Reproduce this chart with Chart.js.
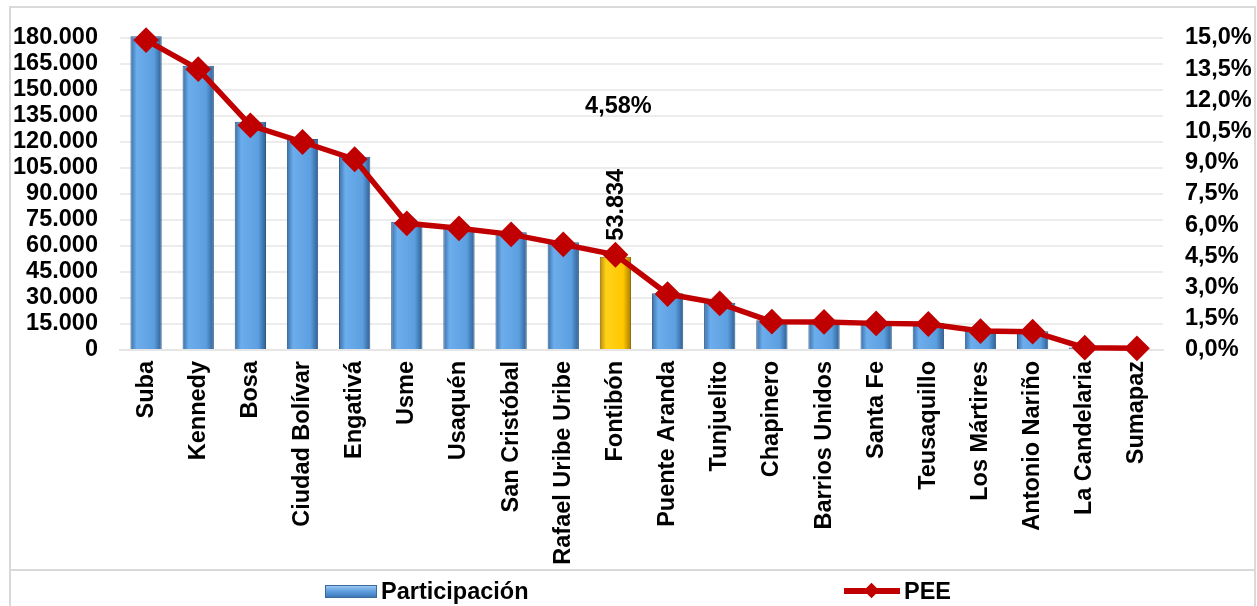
<!DOCTYPE html>
<html>
<head>
<meta charset="utf-8">
<script src="https://cdn.jsdelivr.net/npm/chart.js@4.4.1/dist/chart.umd.min.js"></script>
<style>
    body { margin: 0; background: #fff; font-family: "Liberation Sans", Arial, sans-serif; }
    #wrap { position: relative; width: 1257px; height: 606px; overflow: hidden; }
    #chart { position: absolute; left: 0; top: 0; }
    .box { position: absolute; box-sizing: border-box; border: 2px solid #d9d9d9; }
    #frame { left: 9px; top: 6px; width: 1247px; height: 565px; }
    #legendBox { left: 9px; top: 569px; width: 1247px; height: 45px; }
    .legend-item { position: absolute; top: 577px; font-weight: bold; font-size: 23.5px; color: #000; display: flex; align-items: center; height: 28px; }
    .swatch-bar { width: 52px; height: 13px; margin-right: 4px; border: 1px solid #3c6a9c; box-sizing: border-box;
        background: linear-gradient(to bottom, #9cc6f0, #5d9ddf 50%, #3f78b8); }
    .swatch-line { position: relative; width: 56px; height: 28px; margin-right: 4px; }
    .swatch-line::before { content: ""; position: absolute; left: 0; right: 0; top: 11px; height: 6px; background: #c00000; }
    .swatch-line::after { content: ""; position: absolute; left: 22px; top: 8px; width: 11px; height: 11px; background: #c00000; transform: rotate(45deg); }
</style>
</head>
<body>
<div id="wrap">
    <div class="box" id="frame"></div>
    <div class="box" id="legendBox"></div>
    <canvas id="chart" width="1257" height="606"></canvas>
    <div class="legend-item" style="left:325px"><span class="swatch-bar"></span>Participación</div>
    <div class="legend-item" style="left:844px"><span class="swatch-line"></span>PEE</div>
</div>
<script>
const localidades = ['Suba', 'Kennedy', 'Bosa', 'Ciudad Bolívar', 'Engativá', 'Usme', 'Usaquén',
    'San Cristóbal', 'Rafael Uribe Uribe', 'Fontibón', 'Puente Aranda', 'Tunjuelito', 'Chapinero',
    'Barrios Unidos', 'Santa Fe', 'Teusaquillo', 'Los Mártires', 'Antonio Nariño', 'La Candelaria', 'Sumapaz'];
const participacion = [181000, 164000, 131700, 121700, 111500, 74000, 70300, 67900, 62100, 53834,
    32700, 27200, 17200, 16600, 16200, 15600, 11600, 10800, 1500, 500];
const pee = [14.9, 13.5, 10.8, 10.0, 9.17, 6.09, 5.85, 5.56, 5.08, 4.58,
    2.69, 2.24, 1.36, 1.35, 1.28, 1.25, 0.91, 0.88, 0.11, 0.08];
const highlightIndex = 9; // Fontibón

const leftMax = 180000, leftStep = 15000;
const rightMax = 15, rightStep = 1.5;
const barPct = 0.6;
const tickFont = { family: '"Liberation Sans", Arial, sans-serif', size: 23.5, weight: 'bold' };

function formatThousands(v) {
    return String(Math.round(v)).replace(/\B(?=(\d{3})+(?!\d))/g, '.');
}

function formatPct(v, decimals) {
    return v.toFixed(decimals).replace('.', ',') + '%';
}

function barGradient(context) {
    const chart = context.chart;
    const area = chart.chartArea;
    const highlighted = context.dataIndex === highlightIndex;
    const stops = highlighted
        ? ['#b88a00', '#ffd21a', '#ffc800', '#a87a00']
        : ['#3a6ea6', '#6cadec', '#5c9fe0', '#2f5e92'];
    if (!area || context.dataIndex === undefined) return stops[1];
    const x = chart.scales.x.getPixelForValue(context.dataIndex);
    const w = (area.right - area.left) / localidades.length * barPct;
    const g = chart.ctx.createLinearGradient(x - w / 2, 0, x + w / 2, 0);
    g.addColorStop(0, stops[0]);
    g.addColorStop(0.2, stops[1]);
    g.addColorStop(0.75, stops[2]);
    g.addColorStop(1, stops[3]);
    return g;
}

// labels for the highlighted district
const highlightLabels = {
    id: 'highlightLabels',
    afterDatasetsDraw(chart) {
        const ctx = chart.ctx;
        const bar = chart.getDatasetMeta(0).data[highlightIndex];
        const point = chart.getDatasetMeta(1).data[highlightIndex];
        ctx.save();
        ctx.fillStyle = '#000';
        ctx.font = 'bold 23.5px "Liberation Sans", Arial, sans-serif';
        ctx.translate(bar.x + 1, bar.y - 16);
        ctx.rotate(-Math.PI / 2);
        ctx.textAlign = 'left';
        ctx.textBaseline = 'middle';
        ctx.fillText(formatThousands(participacion[highlightIndex]), 0, 0);
        ctx.restore();

        ctx.save();
        ctx.fillStyle = '#000';
        ctx.font = 'bold 23.5px "Liberation Sans", Arial, sans-serif';
        ctx.textAlign = 'center';
        ctx.textBaseline = 'middle';
        ctx.fillText(formatPct(pee[highlightIndex], 2), point.x + 3, point.y - 148);
        ctx.restore();
    }
};

new Chart(document.getElementById('chart'), {
    type: 'bar',
    data: {
        labels: localidades,
        datasets: [{
            label: 'Participación',
            data: participacion,
            yAxisID: 'y',
            order: 1,
            backgroundColor: barGradient,
            borderColor: (c) => c.dataIndex === highlightIndex ? '#8a6400' : '#2f5a88',
            borderWidth: 1,
            barPercentage: barPct,
            categoryPercentage: 1,
            clip: false
        }, {
            type: 'line',
            label: 'PEE',
            data: pee,
            yAxisID: 'y1',
            order: 0,
            borderColor: '#c00000',
            borderWidth: 5.5,
            pointStyle: 'rectRot',
            pointRadius: 9,
            pointBackgroundColor: '#c00000',
            pointBorderColor: '#c00000',
            tension: 0,
            clip: false
        }]
    },
    options: {
        responsive: false,
        animation: false,
        layout: { padding: { top: 38, left: 0, right: 0, bottom: 0 } },
        plugins: {
            legend: { display: false },
            tooltip: { enabled: false }
        },
        scales: {
            x: {
                grid: { display: false },
                border: { display: true, color: '#e6e6e6', width: 2 },
                ticks: {
                    color: '#000',
                    font: tickFont,
                    autoSkip: false,
                    maxRotation: 90,
                    minRotation: 90,
                    padding: 3
                },
                afterFit: (scale) => { scale.height = 256; }
            },
            y: {
                position: 'left',
                min: 0,
                max: leftMax,
                grid: { color: '#ececec', lineWidth: 2, drawTicks: false },
                border: { display: false },
                ticks: {
                    stepSize: leftStep,
                    autoSkip: false,
                    color: '#000',
                    font: tickFont,
                    padding: 22,
                    callback: (v) => formatThousands(v)
                },
                afterFit: (scale) => { scale.width = 120; }
            },
            y1: {
                position: 'right',
                min: 0,
                max: rightMax,
                grid: { display: false, drawTicks: false },
                border: { display: false },
                ticks: {
                    stepSize: rightStep,
                    autoSkip: false,
                    color: '#000',
                    font: tickFont,
                    padding: 22,
                    callback: (v) => formatPct(v, 1)
                },
                afterFit: (scale) => { scale.width = 94; }
            }
        }
    },
    plugins: [highlightLabels]
});
</script>
</body>
</html>
